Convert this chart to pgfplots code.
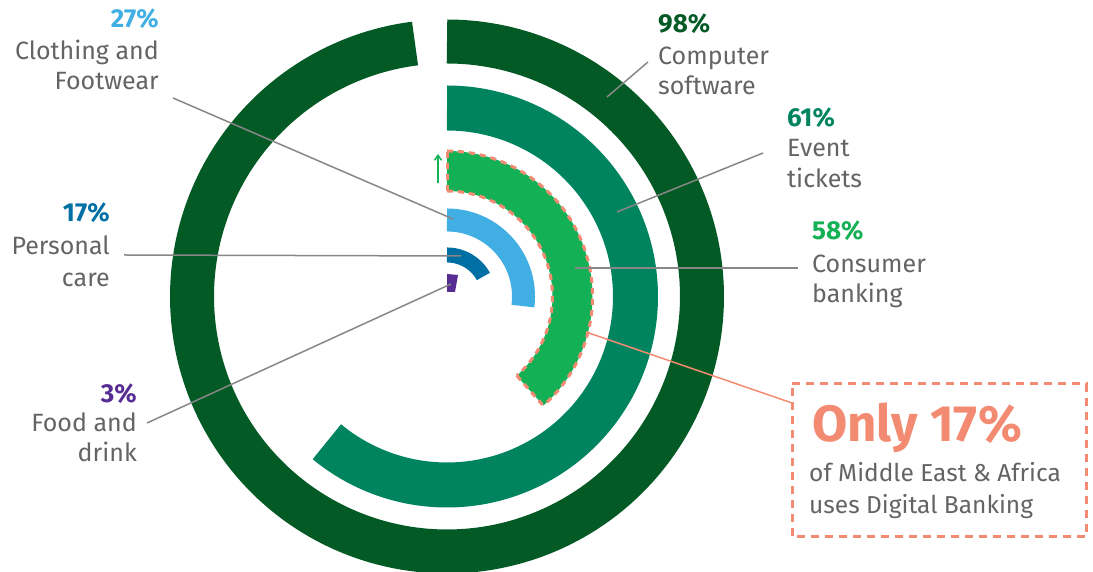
\documentclass[border=0pt]{standalone}
\usepackage{pgfplots}
\pgfplotsset{compat=1.18}
\usepackage{fontspec}
\setmainfont{Fira Sans}
\usetikzlibrary{arrows.meta}
\definecolor{cA}{RGB}{3,90,37}
\definecolor{cB}{RGB}{0,132,95}
\definecolor{cC}{RGB}{20,176,86}
\definecolor{cD}{RGB}{66,175,228}
\definecolor{cE}{RGB}{0,111,163}
\definecolor{cF}{RGB}{87,45,148}
\definecolor{salmon}{RGB}{242,139,113}
\definecolor{txt}{RGB}{100,100,100}
\definecolor{lead}{RGB}{135,135,135}
\begin{document}
\begin{tikzpicture}
\begin{axis}[name=ax, x=1pt, y=1pt, xmin=-447, xmax=646, ymin=-275.5, ymax=296.5,
  hide axis, clip=true]
% rings: domain end = percentage drawn (100% = full circle)
\addplot[draw=cA, line width=44pt, domain=0:98, samples=300] ({255*sin(3.6*x)},{255*cos(3.6*x)});
\addplot[draw=cB, line width=45pt, domain=0:61, samples=200] ({188.5*sin(3.6*x)},{188.5*cos(3.6*x)});
\addplot[draw=cC, line width=40pt, domain=0:38.5, samples=150] ({125.5*sin(3.6*x)},{125.5*cos(3.6*x)});
\addplot[draw=cD, line width=23pt, domain=0:27, samples=100] ({76.5*sin(3.6*x)},{76.5*cos(3.6*x)});
\addplot[draw=cE, line width=15pt, domain=0:17, samples=80] ({41.5*sin(3.6*x)},{41.5*cos(3.6*x)});
\addplot[fill=cF, draw=none] coordinates {(0,22.5) (11,21.5) (8,4.5) (0,4.5)} -- cycle;
% dashed highlight border of consumer banking ring
\addplot[draw=salmon, line width=3pt, dash pattern=on 6pt off 5pt, domain=0:38.5, samples=150] ({145.5*sin(3.6*x)},{145.5*cos(3.6*x)});
\addplot[draw=salmon, line width=3pt, dash pattern=on 6pt off 5pt, domain=0:38.5, samples=150] ({105.5*sin(3.6*x)},{105.5*cos(3.6*x)});
\addplot[draw=salmon, line width=3pt, dash pattern=on 6pt off 5pt] coordinates {(0,105.5) (0,145.5)};
\addplot[draw=salmon, line width=3pt, dash pattern=on 6pt off 5pt, domain=105.5:145.5, samples=2] ({x*sin(138.6)},{x*cos(138.6)});
% arrow
\addplot[draw=cC, line width=1.5pt, -{Straight Barb[length=5pt,width=7pt]}] coordinates {(-9,113.5) (-9,142.5)};
% leader lines
\addplot[draw=lead, line width=1.5pt] coordinates {(160,199.5) (201,234.5)};
\addplot[draw=lead, line width=1.5pt] coordinates {(170,84.5) (316,143.5)};
\addplot[draw=lead, line width=1.5pt] coordinates {(128,28.5) (351,28.5)};
\addplot[draw=lead, line width=1.5pt] coordinates {(-274,198.5) (6,77.5)};
\addplot[draw=lead, line width=1.5pt] coordinates {(-323,41.5) (14,40.5)};
\addplot[draw=lead, line width=1.5pt] coordinates {(-300,-126.5) (4,12.5)};
\addplot[draw=salmon, line width=1.5pt] coordinates {(139,-35.5) (345,-106.5)};
% callout box
\addplot[draw=salmon, line width=3pt, dash pattern=on 8pt off 6pt] coordinates {(345,-87.5) (639,-87.5) (639,-240.5) (345,-240.5)} -- cycle;
\end{axis}
\begin{axis}[x=1pt, y=1pt, xmin=-447, xmax=646, ymin=-275.5, ymax=296.5, hide axis, clip=false, at={(ax.south west)}, anchor=south west]
\tikzset{lab/.style={font=\fontsize{25}{30}\selectfont, text=txt, inner sep=0pt},
         pct/.style={font=\fontsize{26}{30}\selectfont\bfseries, inner sep=0pt}}
\node[pct, text=cD, anchor=base east] at (axis cs:-288,268.5) {27\%};
\node[lab, anchor=base east] at (axis cs:-288,236.5) {Clothing and};
\node[lab, anchor=base east] at (axis cs:-288,206.5) {Footwear};
\node[pct, text=cA, anchor=base west] at (axis cs:211,263.5) {98\%};
\node[lab, anchor=base west] at (axis cs:211,231.5) {Computer};
\node[lab, anchor=base west] at (axis cs:211,201.5) {software};
\node[pct, text=cB, anchor=base west] at (axis cs:340,169.5) {61\%};
\node[lab, anchor=base west] at (axis cs:340,139.5) {Event};
\node[lab, anchor=base west] at (axis cs:340,108.5) {tickets};
\node[pct, text=cC, anchor=base west] at (axis cs:365,56.5) {58\%};
\node[lab, anchor=base west] at (axis cs:365,23.5) {Consumer};
\node[lab, anchor=base west] at (axis cs:365,-6.5) {banking};
\node[pct, text=cE, anchor=base east] at (axis cs:-337,74.5) {17\%};
\node[lab, anchor=base east] at (axis cs:-337,41.5) {Personal};
\node[lab, anchor=base east] at (axis cs:-337,9.5) {care};
\node[pct, text=cF, anchor=base east] at (axis cs:-310,-106.5) {3\%};
\node[lab, anchor=base east] at (axis cs:-310,-135.5) {Food and};
\node[lab, anchor=base east] at (axis cs:-310,-165.5) {drink};
\node[font=\fontsize{51}{56}\selectfont\bfseries, text=salmon, inner sep=0pt, anchor=base west] at (axis cs:365,-145.5) {Only 17\%};
\node[font=\fontsize{24.5}{32}\selectfont, text=txt, inner sep=0pt, anchor=base west] at (axis cs:362,-185.5) {of Middle East \& Africa};
\node[font=\fontsize{24.5}{32}\selectfont, text=txt, inner sep=0pt, anchor=base west] at (axis cs:362,-217.5) {uses Digital Banking};
\end{axis}
\pgfresetboundingbox
\path[use as bounding box] (ax.south west) rectangle (ax.north east);
\end{tikzpicture}
\end{document}
